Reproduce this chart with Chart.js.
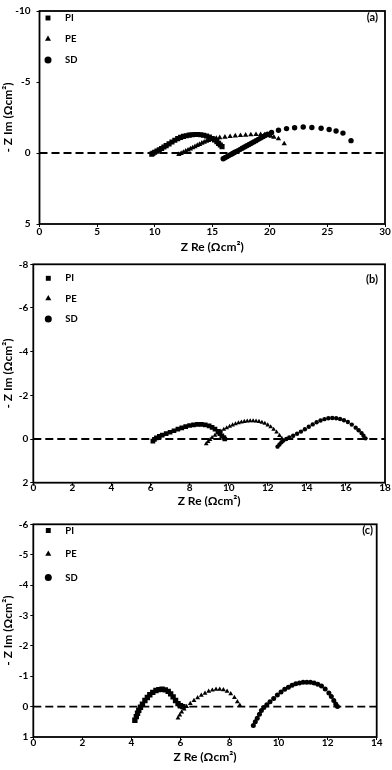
<!DOCTYPE html>
<html>
<head>
<meta charset="utf-8">
<script src="https://cdn.jsdelivr.net/npm/chart.js@4.4.1/dist/chart.umd.min.js"></script>
<style>
  body { margin: 0; background: #fff; }
  .panel { position: absolute; left: 0; width: 392px; }
</style>
</head>
<body>
<div class="panel" style="top:0;height:256px"><canvas id="chart-a"></canvas></div>
<div class="panel" style="top:256px;height:254px"><canvas id="chart-b"></canvas></div>
<div class="panel" style="top:510px;height:260px"><canvas id="chart-c"></canvas></div>
<script>
// Nyquist data, [Z Re, -Z Im]
const labels = ['PI', 'PE', 'SD'];

// (a)
const piA = [[9.75,0.08],[9.85,0.02],[10.0,-0.05],[10.2,-0.13],[10.4,-0.22],[10.6,-0.32],[10.8,-0.42],[11.0,-0.52],
  [11.25,-0.64],[11.5,-0.77],[11.75,-0.9],[12.0,-1.01],[12.25,-1.1],[12.5,-1.17],[12.75,-1.22],[13.0,-1.26],
  [13.25,-1.29],[13.5,-1.3],[13.75,-1.3],[14.0,-1.28],[14.25,-1.25],[14.5,-1.2],[14.75,-1.12],[15.0,-1.02],
  [15.2,-0.92],[15.4,-0.8],[15.55,-0.68],[15.7,-0.56],[15.85,-0.45]];
const peA = [[12.1,0.1],[12.3,0.03],[12.5,-0.05],[12.7,-0.13],[12.9,-0.21],[13.1,-0.29],[13.3,-0.37],[13.5,-0.45],
  [13.7,-0.53],[13.9,-0.61],[14.1,-0.69],[14.3,-0.76],[14.5,-0.83],[14.7,-0.89],[14.9,-0.95],[15.1,-1.0],
  [15.35,-1.04],[15.65,-1.08],[16.1,-1.12],[16.55,-1.16],[17.0,-1.2],[17.45,-1.23],[17.9,-1.26],[18.35,-1.28],
  [18.8,-1.3],[19.2,-1.3],[19.55,-1.28],[19.85,-1.24],[20.1,-1.18],[20.35,-1.12],[20.75,-1.0],[21.25,-0.65]];
const sdA = [[15.95,0.4],[16.1,0.33],[16.25,0.27],[16.4,0.2],[16.55,0.13],[16.7,0.07],[16.85,0.0],[17.0,-0.07],
  [17.2,-0.15],[17.4,-0.24],[17.6,-0.33],[17.8,-0.42],[18.0,-0.51],[18.2,-0.6],[18.4,-0.69],[18.6,-0.78],
  [18.8,-0.87],[19.0,-0.96],[19.2,-1.05],[19.4,-1.14],[19.6,-1.23],[19.8,-1.32],[20.15,-1.45],[20.75,-1.6],
  [21.45,-1.72],[22.15,-1.78],[22.9,-1.83],[23.65,-1.8],[24.45,-1.74],[25.15,-1.66],[25.75,-1.55],[26.35,-1.4],
  [27.05,-0.87]];

// (b)
const piB = [[6.12,0.1],[6.2,0.02],[6.3,-0.05],[6.45,-0.12],[6.6,-0.18],[6.8,-0.25],[7.0,-0.31],[7.2,-0.38],
  [7.4,-0.45],[7.6,-0.51],[7.8,-0.57],[8.0,-0.62],[8.2,-0.65],[8.4,-0.67],[8.6,-0.67],[8.8,-0.65],[9.0,-0.6],
  [9.15,-0.53],[9.3,-0.45],[9.45,-0.35],[9.55,-0.25],[9.65,-0.15],[9.75,-0.07],[9.8,0.0]];
const peB = [[8.85,0.22],[8.95,0.12],[9.05,0.03],[9.15,-0.06],[9.3,-0.17],[9.45,-0.27],[9.6,-0.36],[9.75,-0.44],
  [9.9,-0.51],[10.05,-0.58],[10.2,-0.64],[10.35,-0.69],[10.5,-0.74],[10.65,-0.77],[10.8,-0.8],[10.95,-0.82],
  [11.1,-0.83],[11.25,-0.83],[11.4,-0.82],[11.55,-0.8],[11.7,-0.76],[11.85,-0.71],[12.0,-0.64],[12.15,-0.55],
  [12.3,-0.44],[12.45,-0.31],[12.6,-0.16],[12.72,-0.03]];
const sdB = [[12.5,0.35],[12.6,0.25],[12.7,0.15],[12.8,0.07],[12.95,0.0],[13.1,-0.07],[13.3,-0.15],[13.5,-0.24],
  [13.7,-0.34],[13.9,-0.45],[14.1,-0.56],[14.3,-0.67],[14.5,-0.77],[14.7,-0.85],[14.9,-0.91],[15.1,-0.95],
  [15.3,-0.96],[15.5,-0.95],[15.7,-0.92],[15.9,-0.86],[16.1,-0.78],[16.3,-0.66],[16.5,-0.52],[16.65,-0.4],
  [16.8,-0.27],[16.9,-0.15],[17.0,-0.03]];

// (c)
const piC = [[4.14,0.45],[4.2,0.33],[4.25,0.22],[4.3,0.12],[4.37,0.02],[4.45,-0.08],[4.55,-0.2],[4.65,-0.3],
  [4.75,-0.39],[4.87,-0.47],[5.0,-0.53],[5.12,-0.56],[5.25,-0.57],[5.38,-0.55],[5.5,-0.5],[5.6,-0.42],
  [5.7,-0.32],[5.8,-0.2],[5.9,-0.1],[6.0,-0.03],[6.1,0.0]];
const peC = [[5.9,0.38],[5.97,0.28],[6.05,0.18],[6.15,0.08],[6.25,0.0],[6.4,-0.1],[6.55,-0.2],[6.7,-0.29],
  [6.85,-0.37],[7.0,-0.44],[7.15,-0.5],[7.3,-0.54],[7.45,-0.57],[7.6,-0.57],[7.75,-0.55],[7.9,-0.5],
  [8.05,-0.42],[8.2,-0.3],[8.32,-0.16],[8.42,-0.04]];
const sdC = [[8.97,0.62],[9.05,0.5],[9.13,0.38],[9.22,0.25],[9.3,0.13],[9.4,0.03],[9.52,-0.06],[9.65,-0.16],
  [9.8,-0.27],[9.95,-0.38],[10.1,-0.48],[10.25,-0.57],[10.4,-0.64],[10.55,-0.7],[10.7,-0.75],[10.85,-0.78],
  [11.0,-0.8],[11.15,-0.8],[11.3,-0.8],[11.45,-0.78],[11.6,-0.74],[11.75,-0.68],[11.9,-0.58],[12.05,-0.45],
  [12.15,-0.33],[12.25,-0.2],[12.33,-0.09],[12.4,0.0]];

// axis ranges [min, max, step]
const xRangeA = [0, 30, 5],  yRangeA = [-10, 5, 5];
const xRangeB = [0, 18, 2],  yRangeB = [-8, 2, 2];
const xRangeC = [0, 14, 2],  yRangeC = [-6, 1, 1];

const FONT = 'Lato';
const tickFont = { family: FONT, size: 10, weight: 'bold', lineHeight: 1 };
const titleFont = { family: FONT, size: 12, weight: 'bold', lineHeight: 1.1 };

// box around the plot area
const framePlugin = {
  id: 'frame',
  afterDatasetsDraw(chart) {
    const a = chart.chartArea, ctx = chart.ctx;
    ctx.save();
    ctx.strokeStyle = '#000';
    ctx.lineWidth = 1.8;
    ctx.strokeRect(a.left, a.top, a.right - a.left, a.bottom - a.top);
    ctx.restore();
  }
};

// legend + panel letter drawn inside the plot
const keyPlugin = {
  id: 'key',
  afterDraw(chart, args, o) {
    const ctx = chart.ctx;
    ctx.save();
    ctx.fillStyle = '#000';
    ctx.font = 'bold 9.5px ' + FONT;
    ctx.textBaseline = 'middle';
    chart.data.datasets.forEach((ds, i) => {
      if (!ds.label) return;
      const y = o.y + i * o.gap;
      ctx.beginPath();
      Chart.helpers.drawPoint(ctx, { pointStyle: ds.pointStyle, radius: 3.5, borderWidth: 0 }, o.x, y);
      ctx.fillText(ds.label, o.x + 17, y);
    });
    ctx.font = 'bold 11px ' + FONT;
    ctx.textAlign = 'right';
    ctx.fillText(o.tag, o.tagX, o.tagY);
    ctx.restore();
  }
};

const pts = arr => arr.map(([x, y]) => ({ x, y }));

function series(i, data, style, radius) {
  return {
    label: labels[i], data: pts(data), pointStyle: style, pointRadius: radius,
    pointBackgroundColor: '#000', pointBorderWidth: 0, showLine: false, order: 0
  };
}

function makePanel(id, datasets, xr, yr, L) {
  const el = document.getElementById(id);
  if (!el) return;
  datasets.push({
    type: 'line', data: [{ x: xr[0], y: 0 }, { x: xr[1], y: 0 }],
    borderColor: '#000', borderWidth: 1.8, borderDash: [8, 4], pointRadius: 0, order: 1
  });
  new Chart(el.getContext('2d'), {
    type: 'scatter',
    data: { datasets },
    options: {
      responsive: true,
      maintainAspectRatio: false,
      animation: false,
      layout: { padding: L.pad },
      plugins: { legend: { display: false }, tooltip: { enabled: false }, key: L.key },
      scales: {
        x: {
          type: 'linear', min: xr[0], max: xr[1],
          ticks: { stepSize: xr[2], color: '#000', font: tickFont, padding: L.xTickPad, maxRotation: 0 },
          grid: { drawOnChartArea: false, tickLength: 3, color: '#000' },
          border: { display: false },
          title: { display: true, text: 'Z Re (Ωcm²)', color: '#000', font: titleFont, padding: 0 },
          afterFit: s => { s.height = L.xHeight; }
        },
        y: {
          type: 'linear', min: yr[0], max: yr[1], reverse: true,
          ticks: { stepSize: yr[2], color: '#000', font: tickFont, padding: L.yTickPad },
          grid: { drawOnChartArea: false, tickLength: 3, color: '#000' },
          border: { display: false },
          title: { display: true, text: '- Z Im (Ωcm²)', color: '#000', font: titleFont, padding: { top: 1.5, bottom: 0 } },
          afterFit: s => { s.width = L.yWidth; }
        }
      }
    },
    plugins: [framePlugin, keyPlugin]
  });
}

makePanel('chart-a',
  [series(0, piA, 'rect', 3.6), series(1, peA, 'triangle', 3.1), series(2, sdA, 'circle', 2.7)],
  xRangeA, yRangeA,
  { pad: { top: 5, right: 7, bottom: 1.9, left: 0 }, yWidth: 39.5, xHeight: 30.1, yTickPad: 6, xTickPad: 0,
    key: { x: 48, y: 18, gap: 21, tag: '(a)', tagX: 378, tagY: 17.5 } });

makePanel('chart-b',
  [series(0, piB, 'rect', 3.3), series(1, peB, 'triangle', 2.7), series(2, sdB, 'circle', 2.2)],
  xRangeB, yRangeB,
  { pad: { top: 8.3, right: 7, bottom: 1.9, left: 0 }, yWidth: 33.3, xHeight: 25.4, yTickPad: 2, xTickPad: -2.5,
    key: { x: 48.3, y: 22.3, gap: 20.3, tag: '(b)', tagX: 378, tagY: 23 } });

makePanel('chart-c',
  [series(0, piC, 'rect', 3.8), series(1, peC, 'triangle', 2.8), series(2, sdC, 'circle', 2.5)],
  xRangeC, yRangeC,
  { pad: { top: 14.3, right: 15.3, bottom: 6.4, left: 0 }, yWidth: 33.3, xHeight: 26.6, yTickPad: 2, xTickPad: -2.5,
    key: { x: 48.3, y: 20.5, gap: 23.5, tag: '(c)', tagX: 373, tagY: 20 } });
</script>
</body>
</html>
